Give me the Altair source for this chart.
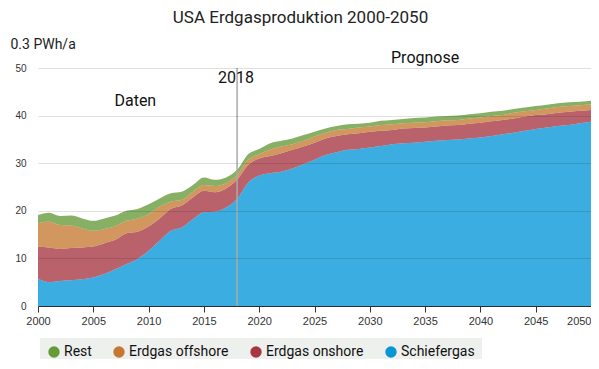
import altair as alt
import pandas as pd

years = list(range(2000, 2051))

schiefergas = [5.7, 5.0, 5.25, 5.4, 5.6, 6.0, 6.7, 7.7, 8.8, 9.9,
               11.6, 13.7, 15.8, 16.5, 18.2, 19.7, 19.8, 20.7, 22.5, 25.9,
               27.4, 27.9, 28.2, 28.9, 29.8, 30.7, 31.7, 32.3, 32.8, 33.0,
               33.3, 33.6, 34.0, 34.2, 34.3, 34.5, 34.7, 34.9, 35.0, 35.2,
               35.4, 35.7, 36.1, 36.4, 36.8, 37.2, 37.5, 37.8, 38.0, 38.4, 38.7]
onshore = [6.8, 7.3, 6.75, 6.8, 6.7, 6.5, 6.5, 6.2, 6.5, 5.7,
           5.1, 4.7, 4.6, 4.6, 4.6, 4.5, 4.1, 4.0, 4.0, 3.7,
           3.6, 3.6, 3.9, 3.9, 3.7, 3.6, 3.5, 3.4, 3.3, 3.3,
           3.3, 3.2, 3.0, 3.1, 3.1, 3.0, 3.0, 3.0, 3.0, 3.1,
           3.1, 3.1, 3.0, 3.0, 3.0, 2.9, 2.8, 2.8, 2.8, 2.6, 2.5]
offshore = [4.9, 5.4, 5.0, 4.7, 4.0, 3.3, 3.0, 2.9, 2.6, 2.8,
            2.6, 2.5, 1.5, 1.2, 1.2, 1.2, 1.3, 1.1, 1.0, 1.1,
            0.9, 1.4, 1.4, 1.2, 1.2, 1.3, 1.2, 1.3, 1.1, 1.2,
            1.1, 1.2, 1.2, 1.1, 1.1, 1.1, 1.1, 1.1, 1.1, 1.1,
            1.1, 1.1, 1.0, 1.2, 1.1, 1.1, 1.2, 1.2, 1.2, 1.2, 1.2]
rest = [1.7, 1.9, 1.9, 2.1, 2.1, 2.1, 2.2, 2.2, 2.1, 2.0,
        2.1, 1.7, 1.8, 1.7, 1.4, 1.6, 1.3, 1.2, 1.1, 1.2,
        1.1, 1.3, 1.2, 1.2, 1.2, 1.0, 0.9, 0.8, 1.0, 0.8,
        0.8, 0.9, 0.9, 0.9, 1.0, 1.0, 1.0, 0.9, 0.9, 0.9,
        0.9, 0.9, 0.9, 0.8, 0.8, 0.8, 0.8, 0.8, 0.8, 0.7, 0.7]

series_names = ["Rest", "Erdgas offshore", "Erdgas onshore", "Schiefergas"]
series_colors = ["#659a38", "#c57832", "#a53643", "#0596d7"]
stack_rank = {"Schiefergas": 0, "Erdgas onshore": 1, "Erdgas offshore": 2, "Rest": 3}

x_ticks = [2000, 2005, 2010, 2015, 2020, 2025, 2030, 2035, 2040, 2045, 2050]
y_ticks = [0, 10, 20, 30, 40, 50]

notes_text = ["Daten", "2018", "Prognose"]
notes_year = [2008.8, 2017.9, 2035.0]
notes_value = [43.1, 47.9, 52.1]

marker_year = [2018]

rows = []
for name, vals in zip(["Schiefergas", "Erdgas onshore", "Erdgas offshore", "Rest"],
                      [schiefergas, onshore, offshore, rest]):
    for y, v in zip(years, vals):
        rows.append({"Jahr": y, "Wert": v, "Serie": name, "rank": stack_rank[name]})
df = pd.DataFrame(rows)

notes = pd.DataFrame({"text": notes_text, "Jahr": notes_year, "Wert": notes_value})
marker = pd.DataFrame({"Jahr": marker_year, "y0": [0], "y1": [50]})

x_scale = alt.Scale(domain=[2000, 2050], nice=False, zero=False)
y_scale = alt.Scale(domain=[0, 50], nice=False)

areas = alt.Chart(df).mark_area(opacity=0.78, interpolate="monotone").encode(
    x=alt.X("Jahr:Q", scale=x_scale,
            axis=alt.Axis(values=x_ticks, format="d", title=None, grid=False,
                          domainColor="#333", tickColor="#333", tickSize=6,
                          labelFont="Liberation Sans", labelFontSize=11, labelColor="#333",
                          labelPadding=3,
                          labelAlign=alt.condition("datum.value == 2050", alt.value("right"), alt.value("center")))),
    y=alt.Y("Wert:Q", stack="zero", scale=y_scale,
            axis=alt.Axis(values=y_ticks, title="0.3 PWh/a", titleAngle=0, titleAlign="left",
                          titleBaseline="middle", titleX=-28, titleY=-24,
                          titleFont="Roboto", titleFontSize=14, titleFontWeight="normal",
                          titleColor="#222",
                          domain=False, ticks=False, labelPadding=12,
                          labelFont="Liberation Sans", labelFontSize=10, labelColor="#333",
                          gridColor="#000", gridOpacity=0.12, zindex=1)),
    color=alt.Color("Serie:N", scale=alt.Scale(domain=series_names, range=series_colors),
                    legend=alt.Legend(title=None, orient="none", legendX=2, legendY=270,
                                      direction="horizontal", fillColor="#eef0ee",
                                      padding=7, symbolType="circle", symbolSize=130,
                                      symbolOpacity=1, symbolStrokeWidth=0,
                                      labelFont="Roboto", labelFontSize=14, labelColor="#111",
                                      columnPadding=20, labelOffset=3)),
    order=alt.Order("rank:Q", sort="ascending"),
)

rule = alt.Chart(marker).mark_rule(color="#aaaaaa", strokeWidth=1.5).encode(
    x=alt.X("Jahr:Q", scale=x_scale),
    y=alt.Y("y0:Q", scale=y_scale),
    y2="y1:Q",
)

labels = alt.Chart(notes).mark_text(font="Roboto", fontSize=16, color="#111",
                                    baseline="middle", align="center").encode(
    x=alt.X("Jahr:Q", scale=x_scale),
    y=alt.Y("Wert:Q", scale=y_scale),
    text="text:N",
)

chart = alt.layer(areas, rule, labels).properties(
    width=553, height=238,
    autosize=alt.AutoSizeParams(type="none"),
    padding={"left": 30, "top": 60, "right": 0, "bottom": 53},
    title=alt.TitleParams("USA Erdgasproduktion 2000-2050", font="Roboto", fontSize=17,
                          fontWeight="normal", color="#222", anchor="middle",
                          offset=10, dx=-14),
).configure_view(stroke=None)

chart.save("out.html", embed_options={"renderer": "svg", "actions": False})
